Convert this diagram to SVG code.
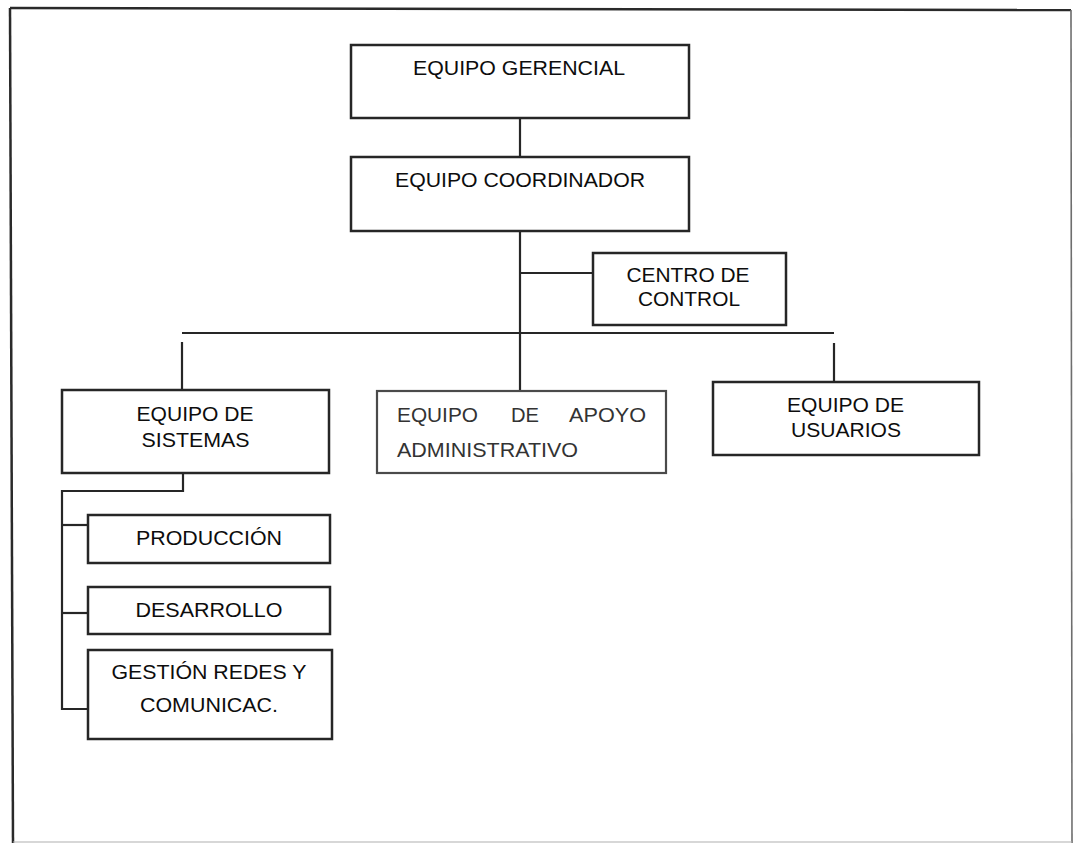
<svg xmlns="http://www.w3.org/2000/svg" width="1075" height="843" viewBox="0 0 1075 843">
  <style>
    .box { fill: #ffffff; stroke: #262626; stroke-width: 2.5; }
    .box-light { fill: #ffffff; stroke: #4a4a4a; stroke-width: 2.2; }
    .link { fill: none; stroke: #262626; stroke-width: 2.2; }
    .label { font-family: "Liberation Sans", Arial, sans-serif; font-size: 19.5px; fill: #0d0d0d; }
    .label-light { font-family: "Liberation Sans", Arial, sans-serif; font-size: 19.5px; fill: #333333; }
    .mid { text-anchor: middle; }
  </style>

  <rect x="0" y="0" width="1075" height="843" fill="#ffffff"/>

  <!-- page frame -->
  <g id="frame" fill="none">
    <path d="M10,8 L1071,10" stroke="#2a2a2a" stroke-width="2.5"/>
    <path d="M10,8 L13,843" stroke="#2a2a2a" stroke-width="2.5"/>
    <path d="M1071,10 L1072,843" stroke="#6e6e6e" stroke-width="1.6"/>
    <path d="M13,842 L1072,842" stroke="#b0b0b0" stroke-width="1.2"/>
  </g>

  <!-- connectors -->
  <g id="connectors">
    <path class="link" d="M520,118 V157"/>
    <path class="link" d="M520,231 V391"/>
    <path class="link" d="M520,273 H593"/>
    <path class="link" d="M182,333 H834"/>
    <path class="link" d="M182,342 V390"/>
    <path class="link" d="M834,343 V384"/>
    <path class="link" d="M183,473 V491 H62 V709 H88"/>
    <path class="link" d="M62,525 H88"/>
    <path class="link" d="M62,613 H88"/>
  </g>

  <g id="equipo-gerencial">
    <rect class="box" x="351" y="45" width="338" height="73"/>
    <text class="label mid" x="519" y="75" textLength="212" lengthAdjust="spacingAndGlyphs">EQUIPO GERENCIAL</text>
  </g>

  <g id="equipo-coordinador">
    <rect class="box" x="351" y="157" width="338" height="74"/>
    <text class="label mid" x="520" y="187" textLength="250" lengthAdjust="spacingAndGlyphs">EQUIPO COORDINADOR</text>
  </g>

  <g id="centro-de-control">
    <rect class="box" x="593" y="253" width="193" height="72"/>
    <text class="label mid" x="688" y="282" textLength="123" lengthAdjust="spacingAndGlyphs">CENTRO DE</text>
    <text class="label mid" x="689" y="306" textLength="102" lengthAdjust="spacingAndGlyphs">CONTROL</text>
  </g>

  <g id="equipo-sistemas">
    <rect class="box" x="62" y="390" width="267" height="83"/>
    <text class="label mid" x="195" y="421" textLength="117" lengthAdjust="spacingAndGlyphs">EQUIPO DE</text>
    <text class="label mid" x="195.5" y="447" textLength="108" lengthAdjust="spacingAndGlyphs">SISTEMAS</text>
  </g>

  <g id="equipo-apoyo">
    <rect class="box-light" x="377" y="391" width="289" height="82"/>
    <text class="label-light" y="422">
      <tspan x="397" textLength="81" lengthAdjust="spacingAndGlyphs">EQUIPO</tspan>
      <tspan x="511" textLength="28" lengthAdjust="spacingAndGlyphs">DE</tspan>
      <tspan x="569" textLength="77" lengthAdjust="spacingAndGlyphs">APOYO</tspan>
    </text>
    <text class="label-light" x="397" y="457" textLength="181" lengthAdjust="spacingAndGlyphs">ADMINISTRATIVO</text>
  </g>

  <g id="equipo-usuarios">
    <rect class="box" x="713" y="382" width="266" height="73"/>
    <text class="label mid" x="845.5" y="412" textLength="117" lengthAdjust="spacingAndGlyphs">EQUIPO DE</text>
    <text class="label mid" x="846" y="437" textLength="110" lengthAdjust="spacingAndGlyphs">USUARIOS</text>
  </g>

  <g id="produccion">
    <rect class="box" x="88" y="515" width="242" height="48"/>
    <text class="label mid" x="209" y="545" textLength="146" lengthAdjust="spacingAndGlyphs">PRODUCCIÓN</text>
  </g>

  <g id="desarrollo">
    <rect class="box" x="88" y="587" width="242" height="47"/>
    <text class="label mid" x="209" y="617" textLength="147" lengthAdjust="spacingAndGlyphs">DESARROLLO</text>
  </g>

  <g id="gestion-redes">
    <rect class="box" x="88" y="650" width="244" height="89"/>
    <text class="label mid" x="209" y="679" textLength="195" lengthAdjust="spacingAndGlyphs">GESTIÓN REDES Y</text>
    <text class="label mid" x="209" y="712" textLength="138" lengthAdjust="spacingAndGlyphs">COMUNICAC.</text>
  </g>
</svg>
